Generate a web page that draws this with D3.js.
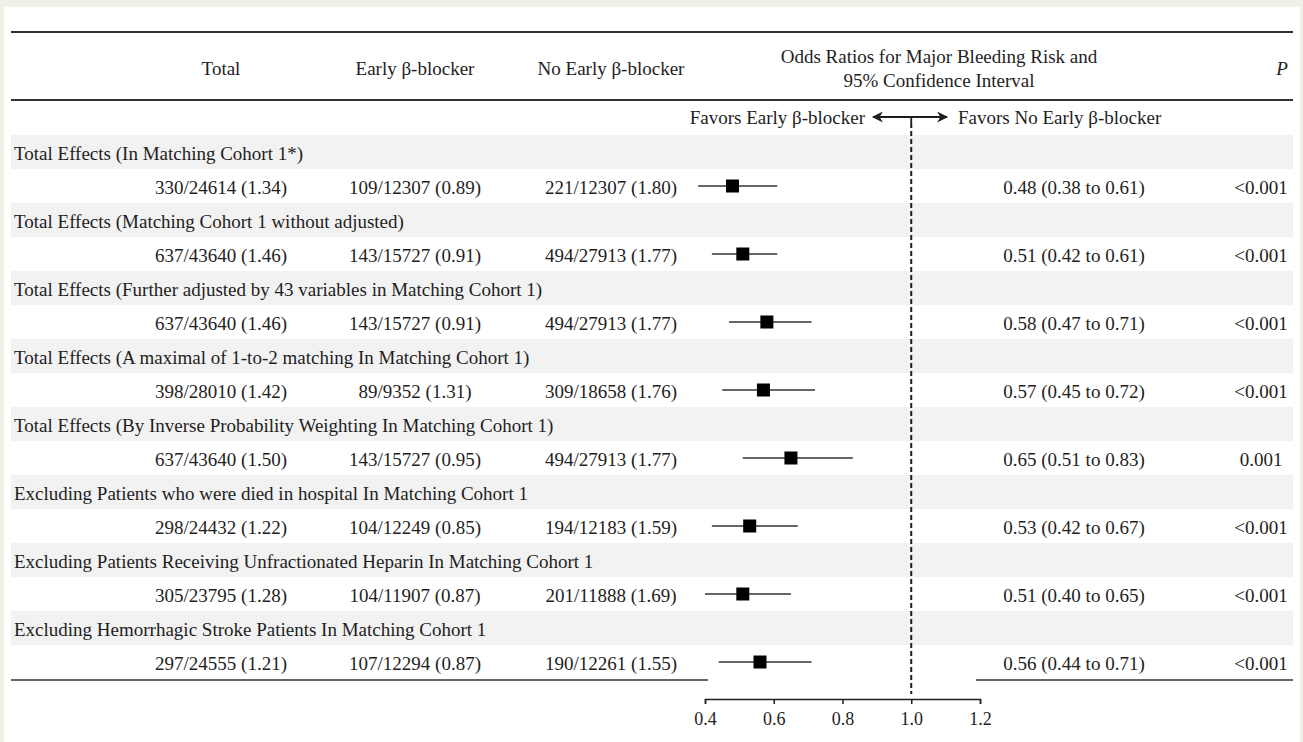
<!DOCTYPE html>
<html>
<head>
<meta charset="utf-8">
<script src="https://cdn.jsdelivr.net/npm/d3@7"></script>
<style>
  html, body { margin: 0; padding: 0; background: #f0f0e7; }
  svg { display: block; }
  text { font-family: "Liberation Serif", "Times New Roman", serif; fill: #1e1e1e; }
</style>
</head>
<body>
<svg id="chart" width="1303" height="742"></svg>
<script>
// Sensitivity analyses: major bleeding risk, early vs. no early beta-blocker
const groupLabels = [
  "Total Effects (In Matching Cohort 1*)",
  "Total Effects (Matching Cohort 1 without adjusted)",
  "Total Effects (Further adjusted by 43 variables in Matching Cohort 1)",
  "Total Effects (A maximal of 1-to-2 matching In Matching Cohort 1)",
  "Total Effects (By Inverse Probability Weighting In Matching Cohort 1)",
  "Excluding Patients who were died in hospital In Matching Cohort 1",
  "Excluding Patients Receiving Unfractionated Heparin In Matching Cohort 1",
  "Excluding Hemorrhagic Stroke Patients In Matching Cohort 1"
];
const totalCounts   = ["330/24614 (1.34)", "637/43640 (1.46)", "637/43640 (1.46)", "398/28010 (1.42)",
                       "637/43640 (1.50)", "298/24432 (1.22)", "305/23795 (1.28)", "297/24555 (1.21)"];
const earlyCounts   = ["109/12307 (0.89)", "143/15727 (0.91)", "143/15727 (0.91)", "89/9352 (1.31)",
                       "143/15727 (0.95)", "104/12249 (0.85)", "104/11907 (0.87)", "107/12294 (0.87)"];
const noEarlyCounts = ["221/12307 (1.80)", "494/27913 (1.77)", "494/27913 (1.77)", "309/18658 (1.76)",
                       "494/27913 (1.77)", "194/12183 (1.59)", "201/11888 (1.69)", "190/12261 (1.55)"];
const oddsRatio = [0.48, 0.51, 0.58, 0.57, 0.65, 0.53, 0.51, 0.56];
const ciLower   = [0.38, 0.42, 0.47, 0.45, 0.51, 0.42, 0.40, 0.44];
const ciUpper   = [0.61, 0.61, 0.71, 0.72, 0.83, 0.67, 0.65, 0.71];
const pValues   = ["<0.001", "<0.001", "<0.001", "<0.001", "0.001", "<0.001", "<0.001", "<0.001"];
const axisTicks = [0.4, 0.6, 0.8, 1.0, 1.2];
const columnHeaders = ["Total", "Early β-blocker", "No Early β-blocker"];

const svg = d3.select("#chart");
const ink = "#1e1e1e";
const rule = "#333";

// white panel
svg.append("rect").attr("x", 4).attr("y", 7).attr("width", 1296).attr("height", 740).attr("fill", "#fff");

const left = 11, right = 1293;
const colX = { total: 221, early: 415, noEarly: 611, orText: 1074, p: 1261 };

// scales
const x = d3.scaleLinear().domain([0.4, 1.2]).range([705, 980]);
const rowBand = d3.scaleBand().domain(d3.range(groupLabels.length * 2)).range([135, 679]);

// shaded label rows
svg.append("g").selectAll("rect").data(groupLabels).join("rect")
  .attr("x", left).attr("width", right - left)
  .attr("y", (d, i) => rowBand(2 * i))
  .attr("height", rowBand.bandwidth())
  .attr("fill", "#f2f2f2");

// header rules
[[32, left, right], [100, left, right]].forEach(([y, a, b]) =>
  svg.append("line").attr("x1", a).attr("x2", b).attr("y1", y).attr("y2", y)
     .attr("stroke", rule).attr("stroke-width", 2));

// header text
const fs = 19;
const hdr = svg.append("g").attr("font-size", fs).attr("text-anchor", "middle");
hdr.append("text").attr("x", colX.total).attr("y", 75).text(columnHeaders[0]);
hdr.append("text").attr("x", colX.early).attr("y", 75).text(columnHeaders[1]);
hdr.append("text").attr("x", colX.noEarly).attr("y", 75).text(columnHeaders[2]);
hdr.append("text").attr("x", 939).attr("y", 63).text("Odds Ratios for Major Bleeding Risk and");
hdr.append("text").attr("x", 939).attr("y", 87).text("95% Confidence Interval");
hdr.append("text").attr("x", 1282).attr("y", 75).attr("font-style", "italic").text("P");

// favors row with double arrow
const favY = 117;
svg.append("text").attr("font-size", fs).attr("x", 865).attr("y", favY + 7)
  .attr("text-anchor", "end").text("Favors Early β-blocker");
svg.append("text").attr("font-size", fs).attr("x", 958).attr("y", favY + 7)
  .attr("text-anchor", "start").text("Favors No Early β-blocker");
const defs = svg.append("defs");
defs.append("marker").attr("id", "arrowHead")
  .attr("viewBox", "0 0 10 10").attr("refX", 9).attr("refY", 5)
  .attr("markerWidth", 14).attr("markerHeight", 11).attr("markerUnits", "userSpaceOnUse")
  .attr("orient", "auto-start-reverse")
  .append("path").attr("d", "M0,0 L10,5 L0,10 L3,5 Z").attr("fill", ink);
svg.append("line").attr("x1", 873).attr("x2", 947).attr("y1", favY).attr("y2", favY)
  .attr("stroke", ink).attr("stroke-width", 1.8)
  .attr("marker-start", "url(#arrowHead)").attr("marker-end", "url(#arrowHead)");
svg.append("line").attr("x1", x(1)).attr("x2", x(1)).attr("y1", favY).attr("y2", favY + 6)
  .attr("stroke", ink).attr("stroke-width", 1.8);

// reference line at OR = 1
svg.append("line").attr("x1", x(1)).attr("x2", x(1)).attr("y1", favY + 6).attr("y2", 694)
  .attr("stroke", ink).attr("stroke-width", 2).attr("stroke-dasharray", "5,3");

// rows
const rows = svg.append("g").attr("font-size", fs);
groupLabels.forEach((label, i) => {
  const yLab = rowBand(2 * i) + rowBand.bandwidth() / 2;
  const yDat = rowBand(2 * i + 1) + rowBand.bandwidth() / 2;
  rows.append("text").attr("x", 14).attr("y", yLab + 8).text(label);
  rows.append("text").attr("x", colX.total).attr("y", yDat + 8).attr("text-anchor", "middle").text(totalCounts[i]);
  rows.append("text").attr("x", colX.early).attr("y", yDat + 8).attr("text-anchor", "middle").text(earlyCounts[i]);
  rows.append("text").attr("x", colX.noEarly).attr("y", yDat + 8).attr("text-anchor", "middle").text(noEarlyCounts[i]);
  rows.append("text").attr("x", colX.orText).attr("y", yDat + 8).attr("text-anchor", "middle")
    .text(`${oddsRatio[i].toFixed(2)} (${ciLower[i].toFixed(2)} to ${ciUpper[i].toFixed(2)})`);
  rows.append("text").attr("x", colX.p).attr("y", yDat + 8).attr("text-anchor", "middle").text(pValues[i]);

  // confidence interval and point estimate
  rows.append("line").attr("x1", x(ciLower[i])).attr("x2", x(ciUpper[i]))
    .attr("y1", yDat).attr("y2", yDat).attr("stroke", "#333").attr("stroke-width", 1.5);
  const s = 13;
  rows.append("rect").attr("x", x(oddsRatio[i]) - s / 2).attr("y", yDat - s / 2)
    .attr("width", s).attr("height", s).attr("fill", "#000");
});

// bottom rules on both sides of the axis
svg.append("line").attr("x1", left).attr("x2", 708).attr("y1", 680).attr("y2", 680)
  .attr("stroke", rule).attr("stroke-width", 1.6);
svg.append("line").attr("x1", 976).attr("x2", right).attr("y1", 680).attr("y2", 680)
  .attr("stroke", rule).attr("stroke-width", 1.6);

// x axis
const axis = svg.append("g").attr("transform", "translate(0,699)")
  .attr("font-size", 18).attr("font-family", "Liberation Serif")
  .call(d3.axisBottom(x).tickValues(axisTicks).tickFormat(d3.format(".1f"))
        .tickSize(5).tickSizeOuter(5).tickPadding(8));
axis.attr("font-size", 18).attr("font-family", "Liberation Serif");
axis.selectAll("path, line").attr("stroke", ink).attr("stroke-width", 1.5);
axis.selectAll("text").style("font-size", "18px").attr("fill", ink);
</script>
</body>
</html>
